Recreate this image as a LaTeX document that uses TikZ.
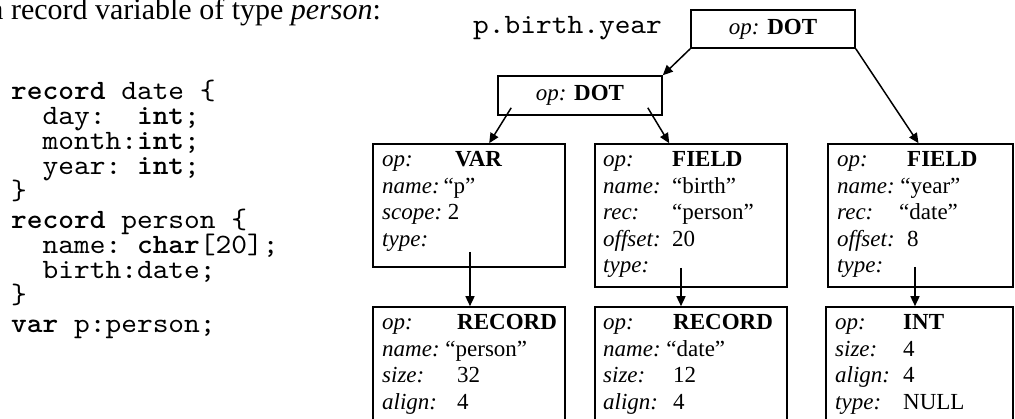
\documentclass[tikz,border=0pt]{standalone}
\usepackage{fontspec}
\setmainfont{Liberation Serif}
\newfontfamily\codefont{lmmono10-regular}[Extension=.otf,
  BoldFont=lmmonolt10-bold, FakeStretch=1.07]
\usetikzlibrary{arrows.meta,calc}

\tikzset{
  box/.style={draw, line width=1.6pt, rectangle, inner sep=0pt,
              font=\fontsize{23}{26.5}\selectfont},
  boxtext/.style={anchor=base west, inner sep=0pt,
                  font=\fontsize{23}{26.5}\selectfont},
  code/.style={anchor=base west, inner sep=0pt, text height=16pt,
               text depth=6pt, font=\codefont\fontsize{28}{25}\selectfont},
  arr/.style={line width=1.5pt, -{Triangle[length=10pt,width=9pt]}},
}
% label set in a fixed-width slot, then the value
\newcommand{\tabl}[3]{\makebox[#1][l]{\textit{#2}}#3}
\newcommand{\dirl}[2]{\textit{#1}~#2}

\begin{document}
\begin{tikzpicture}[x=1pt,y=-1pt]
\useasboundingbox (0,0) rectangle (1015,419);
\clip (0,0) rectangle (1015,419);

% heading
\node[anchor=base west, inner sep=0pt, font=\fontsize{30}{33}\selectfont]
  (title) at (-10,20) {a record variable of type \textit{person}:};

% source code
\node[code] (c1)  at (11,100) {\textbf{record} date \{};
\node[code] (c2)  at (11,125) {~~day:~~\textbf{int};};
\node[code] (c3)  at (11,150) {~~month:\textbf{int};};
\node[code] (c4)  at (11,175) {~~year:~\textbf{int};};
\node[code] (c5)  at (11,200) {\}};
\node[code] (c6)  at (11,229) {\textbf{record} person \{};
\node[code] (c7)  at (11,254) {~~name:~\textbf{char}[20];};
\node[code] (c8)  at (11,279) {~~birth:date;};
\node[code] (c9)  at (11,304) {\}};
\node[code] (c10) at (11,333) {\textbf{var} p:person;};

% expression
\node[code] (expr) at (473,34) {p.birth.year};

% DOT nodes
\node[box, minimum width=164pt, minimum height=38pt] (dot1) at (773,29)
  {\textit{op:} \textbf{DOT}};
\node[box, minimum width=164pt, minimum height=39pt] (dot2) at (580,95.5)
  {\textit{op:} \textbf{DOT}};

% second row
\node[box, minimum width=192pt, minimum height=123pt] (var) at (469,205.5) {};
\node[box, minimum width=192pt, minimum height=143pt] (fb)  at (691,215.5) {};
\node[box, minimum width=185pt, minimum height=143pt] (fy)  at (920.5,215.5) {};

% third row
\node[box, minimum width=192pt, minimum height=123pt] (rp) at (469,368.5) {};
\node[box, minimum width=192pt, minimum height=123pt] (rd) at (691,368.5) {};
\node[box, minimum width=187pt, minimum height=123pt] (ri) at (919.5,368.5) {};

% box contents
\node[boxtext] (var-t) at (382,167) {\begin{tabular}[t]{@{}l@{}}
  \tabl{73pt}{op:}{\textbf{VAR}}\\
  \textit{name:}\,``p''\\
  \dirl{scope:}{2}\\
  \textit{type:}
\end{tabular}};
\node[boxtext] (fb-t) at (603,167) {\begin{tabular}[t]{@{}l@{}}
  \tabl{69pt}{op:}{\textbf{FIELD}}\\
  \tabl{69pt}{name:}{``birth''}\\
  \tabl{69pt}{rec:}{``person''}\\
  \tabl{69pt}{offset:}{20}\\
  \textit{type:}
\end{tabular}};
\node[boxtext] (fy-t) at (837,167) {\begin{tabular}[t]{@{}l@{}}
  \tabl{70pt}{op:}{\textbf{FIELD}}\\
  \dirl{name:}{``year''}\\
  \tabl{62pt}{rec:}{``date''}\\
  \tabl{70pt}{offset:}{8}\\
  \textit{type:}
\end{tabular}};
\node[boxtext] (rp-t) at (382,330) {\begin{tabular}[t]{@{}l@{}}
  \tabl{75pt}{op:}{\textbf{RECORD}}\\
  \dirl{name:}{``person''}\\
  \tabl{75pt}{size:}{32}\\
  \tabl{75pt}{align:}{4}
\end{tabular}};
\node[boxtext] (rd-t) at (603,330) {\begin{tabular}[t]{@{}l@{}}
  \tabl{70pt}{op:}{\textbf{RECORD}}\\
  \dirl{name:}{``date''}\\
  \tabl{70pt}{size:}{12}\\
  \tabl{70pt}{align:}{4}
\end{tabular}};
\node[boxtext] (ri-t) at (835,330) {\begin{tabular}[t]{@{}l@{}}
  \tabl{68pt}{op:}{\textbf{INT}}\\
  \tabl{68pt}{size:}{4}\\
  \tabl{68pt}{align:}{4}\\
  \tabl{68pt}{type:}{NULL}
\end{tabular}};

% tree edges
\draw[arr] (dot1.south west) -- (dot2.north east);
\draw[arr] (dot1.south east) -- ($(fy.north)+(-2,0)$);
\coordinate (d2a) at ($(dot2.south west)+(14,-8)$);
\coordinate (d2b) at ($(dot2.south east)+(-15,-8)$);
\draw[arr] (d2a) -- ($(var.north west)+(117,0)$);
\draw[arr] (d2b) -- ($(fb.north west)+(75,0)$);

% type links
\coordinate (vt) at (470,252);
\coordinate (ft) at (681,268);
\coordinate (yt) at (915,267);
\draw[arr] (vt) -- (vt |- rp.north);
\draw[arr] (ft) -- (ft |- rd.north);
\draw[arr] (yt) -- (yt |- ri.north);
\end{tikzpicture}
\end{document}
